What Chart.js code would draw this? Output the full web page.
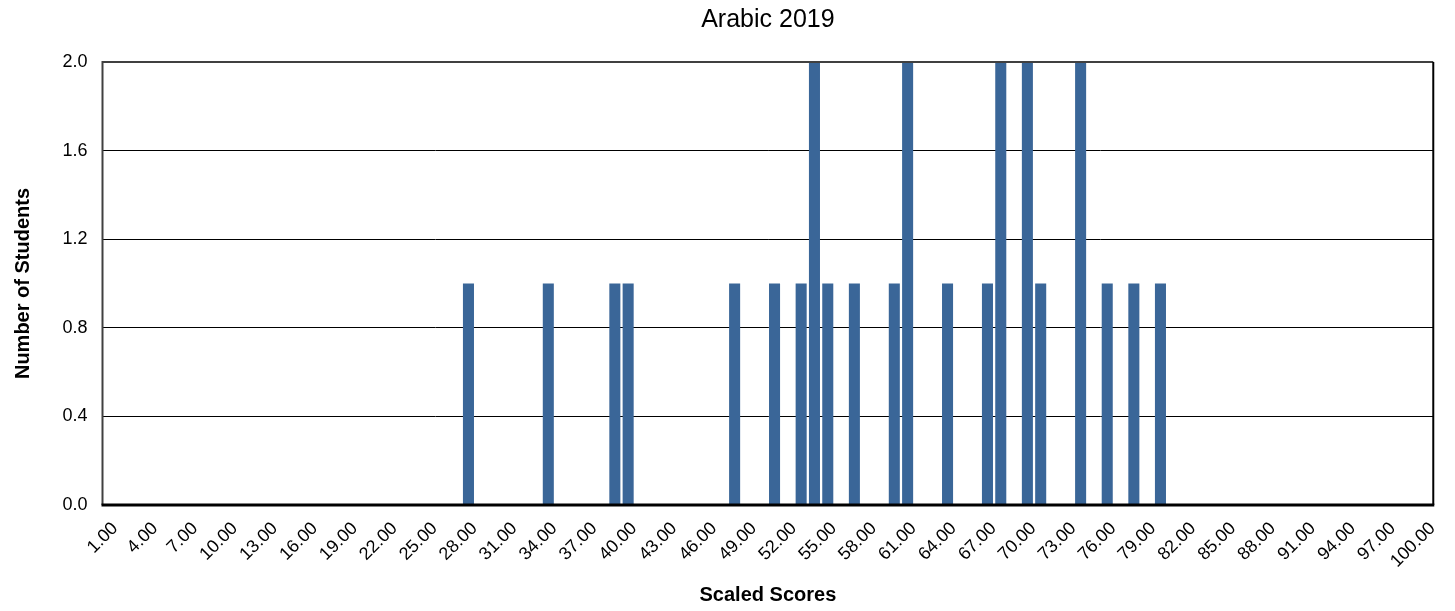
<!DOCTYPE html>
<html>
<head>
<meta charset="utf-8">
<script src="https://cdn.jsdelivr.net/npm/chart.js@4/dist/chart.umd.min.js"></script>
<style>
html,body{margin:0;padding:0;background:#fff;}
#wrap{width:1455px;height:611px;position:relative;}
</style>
</head>
<body>
<div id="wrap"><canvas id="c" width="1455" height="611"></canvas></div>
<script>
const chartTitle = "Arabic 2019";
const xTitle = "Scaled Scores";
const yTitle = "Number of Students";
// Scores with non-zero counts, and their counts
const scores = [28, 34, 39, 40, 48, 51, 53, 54, 55, 57, 60, 61, 64, 67, 68, 70, 71, 74, 76, 78, 80];
const counts = [1, 1, 1, 1, 1, 1, 1, 2, 1, 1, 1, 2, 1, 1, 2, 2, 1, 2, 1, 1, 1];
const yTicks = [0, 0.4, 0.8, 1.2, 1.6, 2.0];

const categories = [];
for (let s = 1; s <= 100; s++) categories.push(s.toFixed(2));
const values = categories.map(c => {
  const i = scores.indexOf(Math.round(parseFloat(c)));
  return i >= 0 ? counts[i] : 0;
});

const borderPlugin = {
  id: 'plotBorder',
  afterDraw(chart) {
    const {ctx, chartArea: a} = chart;
    ctx.save();
    ctx.strokeStyle = '#404040';
    ctx.lineWidth = 2;
    ctx.beginPath();
    ctx.moveTo(a.left, a.bottom); ctx.lineTo(a.left, a.top); ctx.lineTo(a.right, a.top);
    ctx.stroke();
    ctx.strokeStyle = '#000';
    ctx.beginPath();
    ctx.moveTo(a.right, a.top); ctx.lineTo(a.right, a.bottom);
    ctx.stroke();
    ctx.lineWidth = 3;
    ctx.beginPath();
    ctx.moveTo(a.left - 1, a.bottom); ctx.lineTo(a.right + 1, a.bottom);
    ctx.stroke();
    ctx.restore();
  }
};

Chart.defaults.font.family = '"Liberation Sans", Arial, sans-serif';
Chart.defaults.color = '#000';

new Chart(document.getElementById('c'), {
  type: 'bar',
  data: {
    labels: categories,
    datasets: [{
      data: values,
      backgroundColor: '#3A6698',
      borderWidth: 0,
      barPercentage: 0.83,
      categoryPercentage: 1.0
    }]
  },
  options: {
    responsive: false,
    animation: false,
    layout: {padding: {left: 0, right: 20, top: 0, bottom: 0}},
    plugins: {
      legend: {display: false},
      tooltip: {enabled: false},
      title: {
        display: true,
        fullSize: false,
        text: chartTitle,
        font: {size: 25, weight: 'normal'},
        color: '#000',
        padding: {top: 5, bottom: 27}
      }
    },
    scales: {
      x: {
        grid: {display: false, drawTicks: false},
        border: {display: false},
        afterFit(s) { s.height = 106; },
        ticks: {
          autoSkip: false,
          maxRotation: 45,
          minRotation: 45,
          padding: 13,
          labelOffset: 6,
          font: {size: 18},
          color: '#000',
          callback(v, i) { return i % 3 === 0 ? categories[i] : null; }
        },
        title: {
          display: true,
          text: xTitle,
          font: {size: 20, weight: 'bold'},
          color: '#000',
          padding: {top: 4, bottom: 4}
        }
      },
      y: {
        min: 0,
        max: 2,
        afterFit(s) { s.width = 102.5; },
        afterBuildTicks(s) { s.ticks = yTicks.map(v => ({value: v})); },
        grid: {color: '#000', lineWidth: 1, drawTicks: false},
        border: {display: false},
        ticks: {
          padding: 15,
          font: {size: 18},
          color: '#000',
          callback(v) { return Number(v).toFixed(1); }
        },
        title: {
          display: true,
          text: yTitle,
          font: {size: 20, weight: 'bold'},
          color: '#000',
          padding: {top: 11, bottom: 0}
        }
      }
    }
  },
  plugins: [borderPlugin]
});
</script>
</body>
</html>
